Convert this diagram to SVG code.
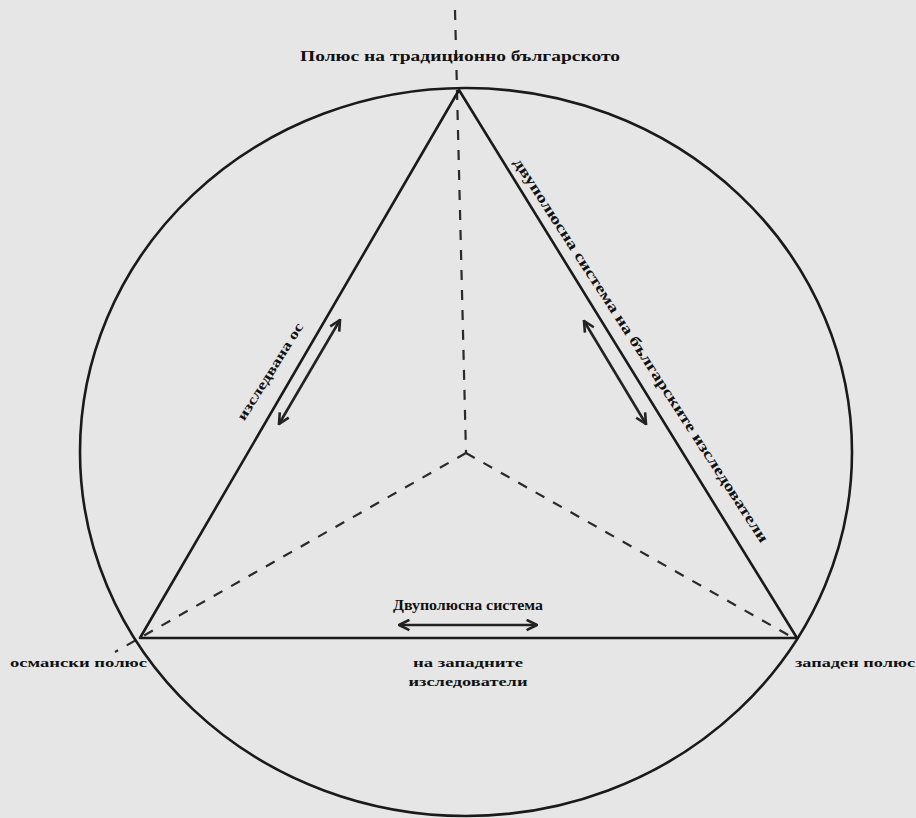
<svg xmlns="http://www.w3.org/2000/svg" width="916" height="818" viewBox="0 0 916 818">
<style>
.bg{fill:#e6e6e6}
.ln{fill:none;stroke:#1a1a1a;stroke-width:2.6;stroke-linecap:round;stroke-linejoin:round}
.ds{fill:none;stroke:#2a2a2a;stroke-width:2.2;stroke-dasharray:10 10}
.ar{fill:none;stroke:#222;stroke-width:2.6;marker-start:url(#ah);marker-end:url(#ah)}
.t{font-family:"Liberation Serif","Times New Roman",serif;font-weight:bold;fill:#111}
</style>
<defs>
<marker id="ah" viewBox="0 0 10 10" refX="9" refY="5" markerWidth="5" markerHeight="5" orient="auto-start-reverse" markerUnits="strokeWidth">
<path d="M1,1 L9,5 L1,9" fill="none" stroke="#222" stroke-width="2"/>
</marker>
</defs>
<rect class="bg" x="0" y="0" width="916" height="818"/>
<g id="connectors">
<line class="ds" x1="455" y1="10" x2="466" y2="453"/>
<line class="ds" x1="466" y1="453" x2="115" y2="652"/>
<line class="ds" x1="466" y1="453" x2="790" y2="636"/>
<line class="ar" x1="340" y1="320" x2="279" y2="424"/>
<line class="ar" x1="584" y1="321" x2="646" y2="424"/>
<line class="ar" x1="399" y1="625" x2="537" y2="625"/>
</g>
<g id="circle">
<ellipse class="ln" cx="466" cy="452" rx="386" ry="364"/>
</g>
<g id="triangle">
<polygon class="ln" points="459,90 797,638 140,638"/>
</g>
<g id="top-pole">
<text class="t" x="300" y="61" font-size="15" textLength="320" lengthAdjust="spacingAndGlyphs">Полюс на традиционно българското</text>
</g>
<g id="left-pole">
<text class="t" x="10" y="667" font-size="13" textLength="137" lengthAdjust="spacingAndGlyphs">османски полюс</text>
</g>
<g id="right-pole">
<text class="t" x="795" y="667" font-size="13" textLength="120" lengthAdjust="spacingAndGlyphs">западен полюс</text>
</g>
<g id="left-axis-label">
<text class="t" x="0" y="0" font-size="14" text-anchor="middle" textLength="112" lengthAdjust="spacingAndGlyphs" transform="translate(274,374) rotate(-58)">изследвана ос</text>
</g>
<g id="right-axis-label">
<text class="t" x="0" y="0" font-size="15" text-anchor="middle" textLength="455" lengthAdjust="spacingAndGlyphs" transform="translate(637,353) rotate(57)">двуполюсна система на българските изследователи</text>
</g>
<g id="bottom-axis-label">
<text class="t" x="468" y="610" font-size="14" text-anchor="middle" textLength="150" lengthAdjust="spacingAndGlyphs">Двуполюсна система</text>
<text class="t" x="468" y="667" font-size="13" text-anchor="middle" textLength="110" lengthAdjust="spacingAndGlyphs">на западните</text>
<text class="t" x="468" y="686" font-size="13" text-anchor="middle" textLength="119" lengthAdjust="spacingAndGlyphs">изследователи</text>
</g>
</svg>
